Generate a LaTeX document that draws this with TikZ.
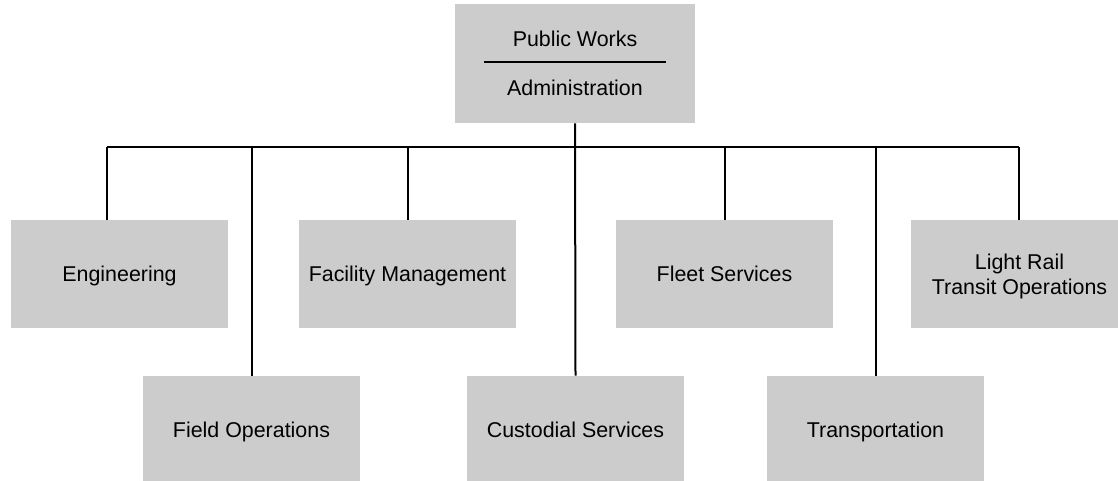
\documentclass[tikz,border=0pt]{standalone}
\usepackage{fontspec}
\setmainfont{Liberation Sans}
\definecolor{boxgray}{HTML}{CCCCCC}
% invisible strut whose middle sits at the capital-letter middle
\newcommand{\unitline}[1]{\rule[-0.19em]{0pt}{1.1em}#1}
\begin{document}
\begin{tikzpicture}[x=0.5pt,y=-0.5pt,
  unitbox/.style={fill=boxgray, draw=none, minimum width=108.5pt,
    minimum height=54pt, inner sep=0pt, align=center,
    font=\fontsize{10.7}{12.5}\selectfont},
  labeltext/.style={inner sep=0pt, font=\fontsize{10.7}{12.5}\selectfont},
  link/.style={line width=1pt},
  bus/.style={line width=1.2pt},
  rule/.style={line width=1.2pt}]
\useasboundingbox (0,0) rectangle (1118,481);

% head office
\node[unitbox, minimum width=120pt, minimum height=59.5pt] (admin) at (575,63.5) {};
\node[labeltext] (pw) at (575,39) {\unitline{Public Works}};
\node[labeltext] (adm) at (575,88) {\unitline{Administration}};
\coordinate (ruleL) at (484,62);
\coordinate (ruleR) at (666,62);
\draw[rule] (ruleL) -- (ruleR);

% divisions, upper row
\node[unitbox] (eng)  at (119.5,274) {\unitline{Engineering}};
\node[unitbox] (fac)  at (407.5,274) {\unitline{Facility Management}};
\node[unitbox] (flt)  at (724.5,274) {\unitline{Fleet Services}};
\node[unitbox] (lrt)  at (1019.5,274) {\unitline{Light Rail}\\\unitline{Transit Operations}};

% divisions, lower row
\node[unitbox] (fld)  at (251.5,430) {\unitline{Field Operations}};
\node[unitbox] (cus)  at (575.5,430) {\unitline{Custodial Services}};
\node[unitbox] (trn)  at (875.5,430) {\unitline{Transportation}};

% bus line
\coordinate (busL) at (107,147);
\coordinate (busR) at (1019,147);
\draw[bus] (busL) -- (busR);

% drops
\draw[link] (busL) -- (busL |- eng.north);
\draw[link] (admin.south) -- (cus.north);
\draw[link] (fac.north) -- (fac.north |- busL);
\draw[link] (flt.north) -- (flt.north |- busL);
\draw[link] (busR) -- (busR |- lrt.north);
\draw[link] (fld.north) -- (fld.north |- busL);
\draw[link] (trn.north) -- (trn.north |- busL);
\end{tikzpicture}
\end{document}
